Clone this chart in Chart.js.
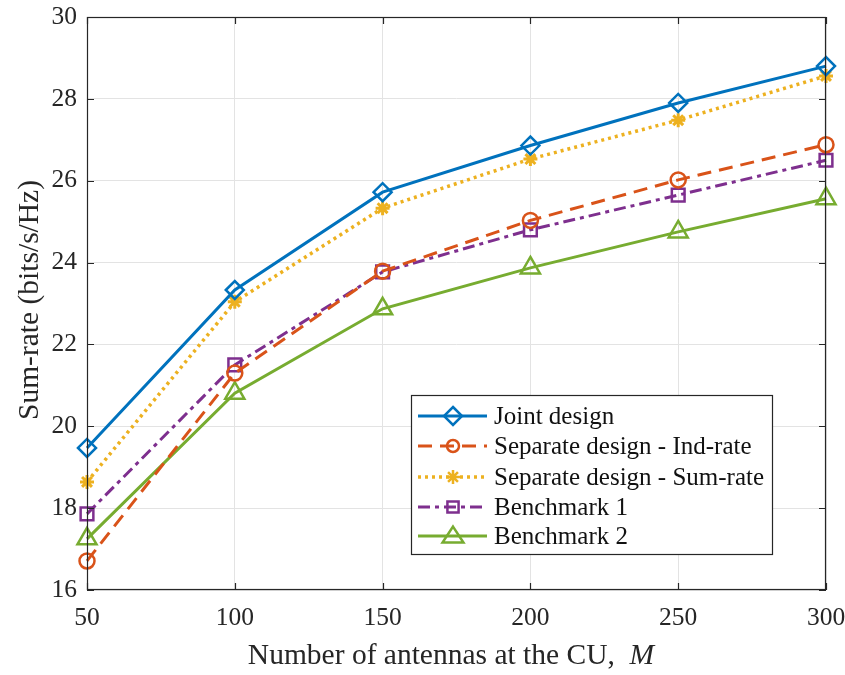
<!DOCTYPE html>
<html>
<head>
<meta charset="utf-8">
<script src="https://cdn.jsdelivr.net/npm/chart.js@4"></script>
<style>
  html, body { margin: 0; padding: 0; background: #fff; }
  #wrap { width: 845px; height: 675px; }
</style>
</head>
<body>
<div id="wrap"><canvas id="rateChart" width="845" height="675"></canvas></div>
<script>
const antennas = [50, 100, 150, 200, 250, 300];
const jointDesign = [19.47, 23.33, 25.72, 26.86, 27.9, 28.8];
const sepIndRate = [16.71, 21.3, 23.79, 25.03, 26.02, 26.88];
const sepSumRate = [18.64, 23.04, 25.33, 26.53, 27.48, 28.56];
const bench1 = [17.86, 21.5, 23.77, 24.8, 25.65, 26.5];
const bench2 = [17.25, 20.81, 22.87, 23.87, 24.75, 25.56];
const yTicks = [16, 18, 20, 22, 24, 26, 28, 30];
const xTicks = [50, 100, 150, 200, 250, 300];

const FONT = '"Liberation Serif", "Times New Roman", serif';

const series = [
  { label: 'Joint design', data: jointDesign, color: '#0072BD', dash: [], width: 3, marker: 'rectRot', r: 9 },
  { label: 'Separate design - Ind-rate', data: sepIndRate, color: '#D95319', dash: [14, 8], width: 3, marker: 'circle', r: 7.5 },
  { label: 'Separate design - Sum-rate', data: sepSumRate, color: '#EDB120', dash: [3, 4], width: 3.5, marker: 'star', r: 7 },
  { label: 'Benchmark 1', data: bench1, color: '#7E2F8E', dash: [12, 5, 4, 5], width: 3, marker: 'rect', r: 9 },
  { label: 'Benchmark 2', data: bench2, color: '#77AC30', dash: [], width: 3, marker: 'triangle', r: 11 }
];

function toPoints(vals) {
  return vals.map((v, i) => ({ x: antennas[i], y: v }));
}

// markers for the legend rows
function marker(c, type, x, y, r, color) {
  c.save();
  c.strokeStyle = color;
  c.fillStyle = color;
  c.lineWidth = 2.5;
  c.setLineDash([]);
  c.beginPath();
  if (type === 'rectRot') {
    c.moveTo(x, y - r); c.lineTo(x + r, y); c.lineTo(x, y + r); c.lineTo(x - r, y); c.closePath();
  } else if (type === 'circle') {
    c.arc(x, y, r * 0.8, 0, Math.PI * 2);
  } else if (type === 'rect') {
    const s = r * 0.62;
    c.rect(x - s, y - s, s * 2, s * 2);
  } else if (type === 'triangle') {
    c.moveTo(x, y - r * 0.85); c.lineTo(x + r * 0.95, y + r * 0.6); c.lineTo(x - r * 0.95, y + r * 0.6); c.closePath();
  } else if (type === 'star') {
    for (let k = 0; k < 4; k++) {
      const a = k * Math.PI / 4;
      c.moveTo(x - Math.cos(a) * r, y - Math.sin(a) * r);
      c.lineTo(x + Math.cos(a) * r, y + Math.sin(a) * r);
    }
  }
  c.stroke();
  c.restore();
}

const framePlugin = {
  id: 'frame',
  afterDraw(chart) {
    const c = chart.ctx;
    const a = chart.chartArea;
    const xs = chart.scales.x, ys = chart.scales.y;
    c.save();
    // axes box
    c.strokeStyle = '#262626';
    c.lineWidth = 1.2;
    c.strokeRect(a.left + 0.5, a.top + 0.5, a.right - a.left - 1, a.bottom - a.top - 1);
    // inward ticks
    c.beginPath();
    yTicks.forEach(t => {
      const py = Math.round(ys.getPixelForValue(t)) + 0.5;
      c.moveTo(a.left, py); c.lineTo(a.left + 7, py);
      c.moveTo(a.right, py); c.lineTo(a.right - 7, py);
    });
    xTicks.forEach(t => {
      const px = Math.round(xs.getPixelForValue(t)) + 0.5;
      c.moveTo(px, a.bottom); c.lineTo(px, a.bottom - 7);
      c.moveTo(px, a.top); c.lineTo(px, a.top + 7);
    });
    c.stroke();

    // axis titles
    c.fillStyle = '#262626';
    c.textBaseline = 'alphabetic';
    const t1 = 'Number of antennas at the CU,  ';
    c.font = '29.5px ' + FONT;
    const w1 = c.measureText(t1).width;
    c.font = 'italic 29.5px ' + FONT;
    const w2 = c.measureText('M').width;
    const sx = 451 - (w1 + w2) / 2;
    c.font = '29.5px ' + FONT;
    c.textAlign = 'left';
    c.fillText(t1, sx, 664);
    c.font = 'italic 29.5px ' + FONT;
    c.fillText('M', sx + w1, 664);

    c.save();
    c.translate(38, 300);
    c.rotate(-Math.PI / 2);
    c.textAlign = 'center';
    c.font = '29.5px ' + FONT;
    c.fillText('Sum-rate (bits/s/Hz)', 0, 0);
    c.restore();

    // legend box
    const lx = 411, ly = 395, lw = 361, lh = 159;
    c.fillStyle = '#fff';
    c.fillRect(lx, ly, lw, lh);
    c.strokeStyle = '#262626';
    c.lineWidth = 1.2;
    c.strokeRect(lx + 0.5, ly + 0.5, lw, lh);
    const rows = [416, 446, 477, 507, 536];
    series.forEach((s, i) => {
      const y = rows[i];
      c.save();
      c.strokeStyle = s.color;
      c.lineWidth = s.width;
      c.setLineDash(s.dash);
      c.beginPath();
      c.moveTo(418, y); c.lineTo(487, y);
      c.stroke();
      c.restore();
      marker(c, s.marker, 453, y, s.r, s.color);
      c.fillStyle = '#111';
      c.font = '25px ' + FONT;
      c.textAlign = 'left';
      c.textBaseline = 'middle';
      c.fillText(s.label, 494, y + 1);
    });
    c.restore();
  }
};

new Chart(document.getElementById('rateChart'), {
  type: 'line',
  data: {
    datasets: series.map(s => ({
      label: s.label,
      data: toPoints(s.data),
      borderColor: s.color,
      borderWidth: s.width,
      borderDash: s.dash,
      pointStyle: s.marker,
      pointRadius: s.r,
      pointBorderWidth: s.marker === 'star' ? 3 : 2.5,
      pointBorderColor: s.color,
      pointBackgroundColor: s.marker === 'star' ? s.color : 'rgba(0,0,0,0)',
      fill: false,
      clip: false,
      tension: 0
    }))
  },
  options: {
    responsive: false,
    animation: false,
    layout: { padding: { left: 0, right: 19, top: 17, bottom: 0 } },
    plugins: {
      legend: { display: false },
      tooltip: { enabled: false }
    },
    scales: {
      x: {
        type: 'linear',
        min: 50,
        max: 300,
        afterBuildTicks(scale) { scale.ticks = xTicks.map(v => ({ value: v })); },
        afterFit(scale) { scale.height = 85; scale.paddingLeft = 0; scale.paddingRight = 0; },
        grid: { color: '#e3e3e3', lineWidth: 1, drawTicks: false },
        border: { display: false },
        ticks: { color: '#262626', font: { family: FONT, size: 25.5 }, padding: 13, maxRotation: 0 }
      },
      y: {
        min: 16,
        max: 30,
        afterBuildTicks(scale) { scale.ticks = yTicks.map(v => ({ value: v })); },
        afterFit(scale) { scale.width = 87; scale.paddingTop = 0; scale.paddingBottom = 0; },
        grid: { color: '#e3e3e3', lineWidth: 1, drawTicks: false },
        border: { display: false },
        ticks: { color: '#262626', font: { family: FONT, size: 25.5 }, padding: 10 }
      }
    }
  },
  plugins: [framePlugin]
});
</script>
</body>
</html>
